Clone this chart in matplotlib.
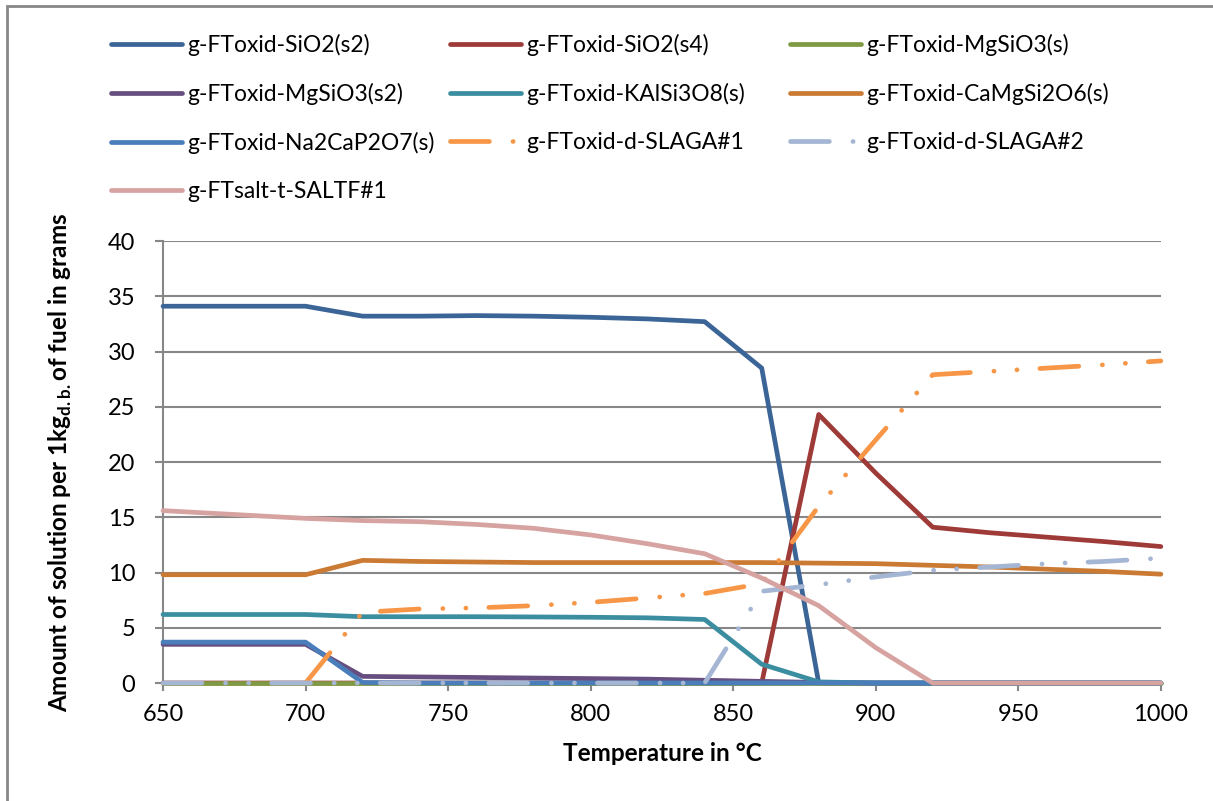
import numpy as np
import matplotlib
matplotlib.use("Agg")
import matplotlib.pyplot as plt
from matplotlib.patches import Rectangle

plt.rcParams['font.family'] = ['Lato', 'DejaVu Sans']
plt.rcParams['mathtext.fontset'] = 'custom'
plt.rcParams['mathtext.rm'] = 'Lato'
plt.rcParams['mathtext.bf'] = 'Lato:bold'
plt.rcParams['lines.scale_dashes'] = False

# Equilibrium amounts (g per kg fuel, dry basis) vs temperature
temps = [650, 700, 720, 740, 760, 780, 800, 820, 840, 860, 880, 900, 920, 940, 960, 980, 1000]

sio2_s2 = [34.1, 34.1, 33.2, 33.2, 33.25, 33.2, 33.1, 32.95, 32.7, 28.5, 0, 0, 0, 0, 0, 0, 0]
sio2_s4 = [0, 0, 0, 0, 0, 0, 0, 0, 0, 0, 24.3, 19.0, 14.1, 13.6, 13.2, 12.8, 12.35]
mgsio3_s = [0, 0, 0, 0, 0, 0, 0, 0, 0, 0, 0, 0, 0, 0, 0, 0, 0]
mgsio3_s2 = [3.5, 3.5, 0.6, 0.55, 0.5, 0.45, 0.4, 0.35, 0.25, 0.15, 0.05, 0, 0, 0, 0, 0, 0]
kalsi3o8 = [6.2, 6.2, 6.0, 6.0, 6.0, 5.98, 5.95, 5.9, 5.75, 1.7, 0.1, 0, 0, 0, 0, 0, 0]
camgsi2o6 = [9.8, 9.8, 11.1, 11.0, 10.95, 10.9, 10.9, 10.9, 10.9, 10.9, 10.85, 10.8, 10.65, 10.5, 10.3, 10.1, 9.85]
na2cap2o7 = [3.7, 3.7, 0.05, 0, 0, 0, 0, 0, 0, 0, 0, 0, 0, 0, 0, 0, 0]
slaga1 = [np.nan, 0, 6.4, 6.7, 6.8, 7.0, 7.3, 7.7, 8.1, 9.0, 16.0, 22.0, 27.9, 28.2, 28.5, 28.8, 29.15]
slaga2 = [0, 0, 0, 0, 0, 0, 0, 0, 0, 8.3, 8.9, 9.6, 10.2, 10.5, 10.8, 11.0, 11.3]
saltf1 = [15.6, 14.9, 14.7, 14.6, 14.35, 14.0, 13.4, 12.6, 11.7, 9.5, 7.0, 3.2, 0, 0, 0, 0, 0]

series = [
    ("g-FToxid-SiO2(s2)", sio2_s2, "#3B6597", "-"),
    ("g-FToxid-SiO2(s4)", sio2_s4, "#9E3B38", "-"),
    ("g-FToxid-MgSiO3(s)", mgsio3_s, "#7F9A43", "-"),
    ("g-FToxid-MgSiO3(s2)", mgsio3_s2, "#664F80", "-"),
    ("g-FToxid-KAlSi3O8(s)", kalsi3o8, "#3A8EA0", "-"),
    ("g-FToxid-CaMgSi2O6(s)", camgsi2o6, "#CB7A33", "-"),
    ("g-FToxid-Na2CaP2O7(s)", na2cap2o7, "#4A7EBB", "-"),
    ("g-FToxid-d-SLAGA#1", slaga1, "#F79646", "dashdotdot"),
    ("g-FToxid-d-SLAGA#2", slaga2, "#A5B6D4", "dashdotdot"),
    ("g-FTsalt-t-SALTF#1", saltf1, "#D6A3A1", "-"),
]

fig = plt.figure(figsize=(12.13, 8.01), dpi=100)
ax = fig.add_axes([0.1344, 0.1473, 0.8226, 0.5518])

handles = []
for name, vals, color, style in series:
    if style == "dashdotdot":
        line, = ax.plot(temps, vals, color=color, lw=3.4, label=name,
                        dashes=[28, 17, 0.1, 16.5, 0.1, 16.5],
                        dash_capstyle='round', solid_joinstyle='round', clip_on=False)
    else:
        line, = ax.plot(temps, vals, color=color, lw=3.4, label=name,
                        solid_capstyle='round', solid_joinstyle='round', clip_on=False)
    handles.append(line)

ax.set_xlim(650, 1000)
ax.set_ylim(0, 40)
ax.set_xticks(range(650, 1001, 50))
ax.set_yticks(range(0, 41, 5))
ax.grid(axis='y', color='#878787', lw=1.5)
ax.set_axisbelow(True)
for side in ['top', 'right']:
    ax.spines[side].set_visible(False)
for side in ['left', 'bottom']:
    ax.spines[side].set_color('#878787')
    ax.spines[side].set_linewidth(1.5)
    ax.spines[side].set_zorder(0.5)
ax.tick_params(axis='both', colors='#878787', labelcolor='black', labelsize=17,
               length=6, width=1.5, direction='out')
ax.tick_params(axis='x', pad=9)
ax.tick_params(axis='y', pad=14)

ax.set_xlabel("Temperature in °C", fontsize=17.5, fontweight='bold', labelpad=12)
ax.set_ylabel(r"Amount of solution per 1kg$_{\mathbf{d.b.}}$of fuel in grams",
              fontsize=17.5, fontweight='bold', labelpad=24)

# legend laid out row by row in three equal-width columns
col_x = [111, 450, 790]
for c, x0 in enumerate(col_x):
    hs = handles[c::3]
    fig.legend(handles=hs, labels=[h.get_label() for h in hs],
               loc='upper left', bbox_to_anchor=(x0 / 1213, 1 - 34 / 801),
               frameon=False, fontsize=16.5, handlelength=3.1, handletextpad=0.22,
               labelspacing=1.17, borderpad=0, borderaxespad=0)

# chart area border
fig.add_artist(Rectangle((7 / 1213, -0.1), 1.2, 1 - 6 / 801 + 0.1, transform=fig.transFigure,
                         fill=False, edgecolor='#878787', lw=2))

fig.savefig("out.png", dpi=100)
